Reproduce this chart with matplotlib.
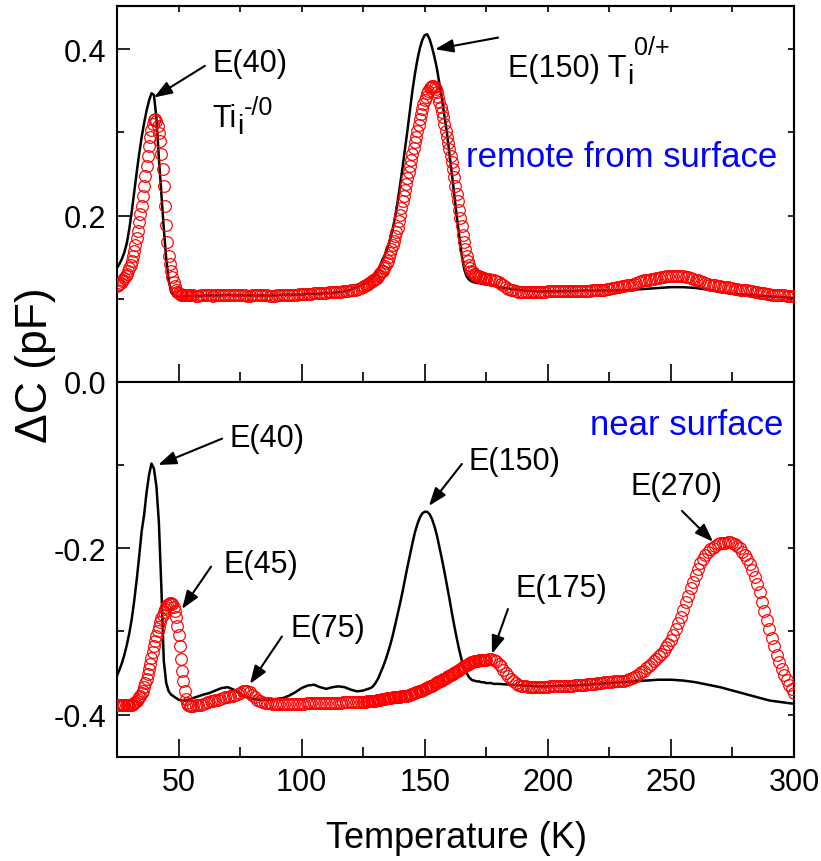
import numpy as np
import matplotlib
matplotlib.use("Agg")
import matplotlib.pyplot as plt
from matplotlib.ticker import MultipleLocator, FixedLocator, FuncFormatter

plt.rcParams["font.family"] = ["Liberation Sans", "DejaVu Sans"]
plt.rcParams["axes.unicode_minus"] = False

# ---------------- temperature grids (K) ----------------
T_red = np.concatenate([np.arange(25, 55, 0.5), np.arange(55, 125, 1.0),
                        np.arange(125, 175, 0.5), np.arange(175, 301, 1.0)])
T_black = np.concatenate([np.arange(25, 60, 1.0), np.arange(60, 125, 2.5),
                          np.arange(125, 180, 1.0), np.arange(180, 301, 5.0)])

# ---------------- remote from surface (upper panel) ----------------
remote_black = [
    # 25 .. 59 K
    0.137, 0.142, 0.148, 0.156, 0.167, 0.184, 0.205, 0.229, 0.252, 0.274,
    0.294, 0.311, 0.326, 0.338, 0.347, 0.345, 0.318, 0.270, 0.228, 0.185,
    0.148, 0.122, 0.108, 0.104, 0.103, 0.103, 0.103, 0.103, 0.103, 0.103,
    0.103, 0.103, 0.103, 0.103, 0.103,
    # 60 .. 122.5 K
    0.104, 0.104, 0.104, 0.104, 0.105, 0.104, 0.104, 0.104, 0.104, 0.104,
    0.104, 0.104, 0.104, 0.105, 0.105, 0.105, 0.105, 0.106, 0.106, 0.106,
    0.107, 0.107, 0.108, 0.109, 0.111, 0.114,
    # 125 .. 179 K
    0.117, 0.119, 0.121, 0.123, 0.126, 0.130, 0.135, 0.141, 0.148, 0.154,
    0.162, 0.172, 0.184, 0.199, 0.217, 0.237, 0.258, 0.280, 0.303, 0.326,
    0.350, 0.370, 0.387, 0.401, 0.411, 0.417, 0.418, 0.412, 0.402, 0.390,
    0.376, 0.358, 0.340, 0.320, 0.300, 0.276, 0.251, 0.225, 0.200, 0.176,
    0.153, 0.136, 0.127, 0.123, 0.121, 0.120, 0.119, 0.119, 0.118, 0.118,
    0.118, 0.117, 0.117, 0.116, 0.116,
    # 180 .. 300 K
    0.114, 0.112, 0.110, 0.109, 0.109, 0.109, 0.109, 0.110, 0.110, 0.110,
    0.110, 0.111, 0.112, 0.113, 0.114, 0.114, 0.113, 0.111, 0.108, 0.106,
    0.105, 0.104, 0.103, 0.102, 0.101,
]

remote_red = [
    # 25 .. 54.5 K
    0.115, 0.116, 0.118, 0.119, 0.121, 0.123, 0.125, 0.127, 0.130, 0.133,
    0.137, 0.141, 0.146, 0.152, 0.158, 0.165, 0.173, 0.182, 0.192, 0.202,
    0.212, 0.223, 0.235, 0.248, 0.260, 0.272, 0.284, 0.294, 0.303, 0.310,
    0.315, 0.316, 0.314, 0.308, 0.299, 0.290, 0.274, 0.256, 0.235, 0.212,
    0.189, 0.168, 0.152, 0.142, 0.133, 0.126, 0.120, 0.115, 0.111, 0.108,
    0.107, 0.106, 0.105, 0.105, 0.104, 0.104, 0.104, 0.104, 0.104, 0.104,
    # 55 .. 124 K
    0.104, 0.104, 0.103, 0.103, 0.104, 0.104, 0.105, 0.104, 0.104, 0.103,
    0.104, 0.104, 0.105, 0.105, 0.105, 0.104, 0.104, 0.104, 0.105, 0.105,
    0.104, 0.104, 0.104, 0.103, 0.103, 0.104, 0.104, 0.104, 0.104, 0.105,
    0.104, 0.104, 0.103, 0.103, 0.103, 0.104, 0.104, 0.104, 0.105, 0.105,
    0.105, 0.105, 0.105, 0.105, 0.106, 0.106, 0.106, 0.106, 0.106, 0.106,
    0.107, 0.107, 0.107, 0.107, 0.107, 0.107, 0.108, 0.108, 0.108, 0.108,
    0.108, 0.108, 0.109, 0.109, 0.109, 0.110, 0.110, 0.111, 0.112, 0.113,
    # 125 .. 174.5 K
    0.114, 0.115, 0.116, 0.117, 0.118, 0.119, 0.120, 0.121, 0.122, 0.123,
    0.124, 0.125, 0.127, 0.129, 0.131, 0.133, 0.134, 0.137, 0.140, 0.143,
    0.146, 0.150, 0.155, 0.160, 0.165, 0.170, 0.175, 0.180, 0.185, 0.193,
    0.201, 0.209, 0.217, 0.224, 0.231, 0.238, 0.245, 0.252, 0.260, 0.267,
    0.274, 0.281, 0.288, 0.295, 0.302, 0.309, 0.316, 0.322, 0.328, 0.334,
    0.339, 0.343, 0.347, 0.350, 0.353, 0.355, 0.356, 0.356, 0.355, 0.352,
    0.348, 0.342, 0.336, 0.330, 0.324, 0.318, 0.310, 0.302, 0.294, 0.287,
    0.280, 0.272, 0.264, 0.256, 0.246, 0.236, 0.226, 0.217, 0.207, 0.197,
    0.187, 0.177, 0.168, 0.160, 0.152, 0.146, 0.141, 0.137, 0.134, 0.132,
    0.130, 0.129, 0.128, 0.127, 0.127, 0.126, 0.126, 0.125, 0.125, 0.124,
    # 175 .. 300 K
    0.124, 0.124, 0.123, 0.122, 0.121, 0.120, 0.118, 0.116, 0.114, 0.112,
    0.111, 0.110, 0.109, 0.108, 0.108, 0.108, 0.108, 0.108, 0.108, 0.108,
    0.108, 0.108, 0.108, 0.108, 0.108, 0.109, 0.109, 0.109, 0.109, 0.109,
    0.109, 0.109, 0.109, 0.109, 0.109, 0.109, 0.109, 0.109, 0.109, 0.109,
    0.109, 0.109, 0.109, 0.110, 0.110, 0.110, 0.110, 0.111, 0.111, 0.112,
    0.112, 0.113, 0.113, 0.114, 0.114, 0.115, 0.115, 0.116, 0.117, 0.117,
    0.118, 0.119, 0.120, 0.121, 0.122, 0.122, 0.123, 0.124, 0.124, 0.125,
    0.125, 0.126, 0.126, 0.127, 0.127, 0.127, 0.127, 0.127, 0.127, 0.127,
    0.127, 0.126, 0.126, 0.125, 0.124, 0.123, 0.122, 0.121, 0.120, 0.119,
    0.118, 0.117, 0.116, 0.116, 0.115, 0.115, 0.114, 0.114, 0.114, 0.113,
    0.113, 0.112, 0.112, 0.111, 0.111, 0.110, 0.110, 0.109, 0.109, 0.108,
    0.108, 0.107, 0.107, 0.107, 0.106, 0.106, 0.105, 0.105, 0.105, 0.104,
    0.104, 0.104, 0.103, 0.103, 0.103, 0.103,
]

# ---------------- near surface (lower panel) ----------------
near_black = [
    # 25 .. 59 K
    -0.353, -0.346, -0.338, -0.328, -0.316, -0.302, -0.285, -0.263, -0.238, -0.210,
    -0.180, -0.160, -0.133, -0.112, -0.098, -0.104, -0.125, -0.168, -0.245, -0.335,
    -0.362, -0.372, -0.376, -0.378, -0.380, -0.382, -0.383, -0.383, -0.383, -0.382,
    -0.381, -0.380, -0.379, -0.378, -0.377,
    # 60 .. 122.5 K
    -0.376, -0.374, -0.371, -0.368, -0.367, -0.370, -0.375, -0.379, -0.381, -0.382,
    -0.382, -0.382, -0.381, -0.380, -0.377, -0.373, -0.368, -0.365, -0.364, -0.367,
    -0.369, -0.367, -0.366, -0.367, -0.370, -0.372,
    # 125 .. 179 K
    -0.371, -0.370, -0.369, -0.368, -0.366, -0.362, -0.357, -0.350, -0.343, -0.335,
    -0.326, -0.316, -0.305, -0.292, -0.279, -0.266, -0.252, -0.237, -0.222, -0.208,
    -0.194, -0.181, -0.171, -0.163, -0.158, -0.156, -0.156, -0.159, -0.165, -0.174,
    -0.185, -0.199, -0.213, -0.228, -0.244, -0.260, -0.277, -0.293, -0.308, -0.322,
    -0.334, -0.343, -0.350, -0.355, -0.358, -0.359, -0.360, -0.360, -0.361, -0.361,
    -0.362, -0.362, -0.362, -0.363, -0.363,
    # 180 .. 300 K
    -0.363, -0.364, -0.365, -0.366, -0.366, -0.365, -0.365, -0.364, -0.363, -0.362,
    -0.361, -0.360, -0.359, -0.358, -0.358, -0.359, -0.361, -0.364, -0.367, -0.371,
    -0.375, -0.379, -0.383, -0.385, -0.387,
]

near_red = [
    # 25 .. 54.5 K
    -0.389, -0.389, -0.389, -0.389, -0.389, -0.389, -0.389, -0.389, -0.389, -0.389,
    -0.389, -0.388, -0.388, -0.387, -0.386, -0.385, -0.383, -0.381, -0.379, -0.377,
    -0.374, -0.371, -0.367, -0.362, -0.357, -0.351, -0.345, -0.339, -0.332, -0.325,
    -0.318, -0.311, -0.305, -0.299, -0.294, -0.289, -0.284, -0.280, -0.276, -0.273,
    -0.270, -0.268, -0.267, -0.266, -0.266, -0.267, -0.270, -0.275, -0.283, -0.293,
    -0.304, -0.318, -0.333, -0.347, -0.360, -0.372, -0.381, -0.386, -0.389, -0.390,
    # 55 .. 124 K
    -0.390, -0.390, -0.389, -0.389, -0.388, -0.387, -0.386, -0.385, -0.384, -0.383,
    -0.382, -0.382, -0.381, -0.380, -0.379, -0.379, -0.378, -0.377, -0.376, -0.375,
    -0.374, -0.372, -0.371, -0.371, -0.373, -0.376, -0.379, -0.382, -0.384, -0.385,
    -0.386, -0.386, -0.386, -0.387, -0.387, -0.387, -0.387, -0.387, -0.387, -0.387,
    -0.387, -0.387, -0.387, -0.387, -0.387, -0.387, -0.387, -0.386, -0.386, -0.386,
    -0.386, -0.386, -0.386, -0.386, -0.386, -0.386, -0.386, -0.386, -0.386, -0.386,
    -0.386, -0.386, -0.385, -0.385, -0.385, -0.385, -0.385, -0.385, -0.385, -0.385,
    # 125 .. 174.5 K
    -0.385, -0.385, -0.385, -0.384, -0.384, -0.384, -0.384, -0.383, -0.383, -0.383,
    -0.383, -0.382, -0.382, -0.382, -0.382, -0.381, -0.381, -0.381, -0.381, -0.380,
    -0.380, -0.380, -0.380, -0.380, -0.379, -0.379, -0.379, -0.379, -0.379, -0.379,
    -0.379, -0.378, -0.378, -0.378, -0.377, -0.377, -0.377, -0.376, -0.376, -0.375,
    -0.375, -0.374, -0.374, -0.373, -0.373, -0.372, -0.372, -0.371, -0.370, -0.370,
    -0.369, -0.368, -0.368, -0.367, -0.366, -0.366, -0.365, -0.364, -0.363, -0.362,
    -0.361, -0.361, -0.360, -0.359, -0.358, -0.357, -0.357, -0.356, -0.355, -0.354,
    -0.353, -0.352, -0.351, -0.351, -0.350, -0.349, -0.348, -0.347, -0.346, -0.345,
    -0.344, -0.343, -0.342, -0.341, -0.340, -0.339, -0.339, -0.338, -0.337, -0.337,
    -0.336, -0.336, -0.335, -0.335, -0.334, -0.334, -0.334, -0.334, -0.334, -0.334,
    # 175 .. 300 K
    -0.334, -0.333, -0.333, -0.334, -0.336, -0.339, -0.342, -0.346, -0.350, -0.354,
    -0.357, -0.360, -0.362, -0.364, -0.365, -0.366, -0.366, -0.367, -0.367, -0.367,
    -0.367, -0.367, -0.367, -0.367, -0.367, -0.367, -0.366, -0.366, -0.366, -0.366,
    -0.366, -0.365, -0.365, -0.365, -0.365, -0.365, -0.364, -0.364, -0.364, -0.364,
    -0.364, -0.363, -0.363, -0.363, -0.363, -0.362, -0.362, -0.362, -0.361, -0.361,
    -0.361, -0.361, -0.360, -0.360, -0.360, -0.360, -0.359, -0.358, -0.357, -0.356,
    -0.355, -0.353, -0.351, -0.349, -0.347, -0.344, -0.342, -0.339, -0.336, -0.333,
    -0.330, -0.327, -0.323, -0.319, -0.315, -0.310, -0.304, -0.297, -0.290, -0.282,
    -0.274, -0.265, -0.257, -0.248, -0.240, -0.232, -0.225, -0.218, -0.213, -0.208,
    -0.204, -0.201, -0.199, -0.197, -0.195, -0.194, -0.193, -0.193, -0.192, -0.192,
    -0.193, -0.195, -0.197, -0.200, -0.204, -0.208, -0.213, -0.219, -0.226, -0.234,
    -0.243, -0.253, -0.264, -0.275, -0.286, -0.297, -0.308, -0.318, -0.328, -0.337,
    -0.345, -0.352, -0.358, -0.364, -0.369, -0.374,
]

x_major_ticks = [50, 100, 150, 200, 250, 300]
top_y_ticks = [0.0, 0.2, 0.4]
bottom_y_ticks = [-0.4, -0.2]

# annotation labels: (text, text x, text baseline y, arrow tail, arrow tip)
top_notes = [
    ("E(40)", 63.6, 0.374, (60.7, 0.380), (40.0, 0.342)),
]
# labels carrying a subscript / superscript: (base, sub, sup, x, baseline y, sup rise pt)
top_ion_labels = [
    ("Ti", "i", "-/0", 63.6, 0.3075, 9.0),
    ("E(150) T", "i", "0/+", 183.8, 0.368, 16.0),
]
top_ion_arrows = [((179.8, 0.414), (154.2, 0.400))]
bottom_notes = [
    ("E(40)", 70.9, -0.077, (67.7, -0.068), (41.7, -0.0997)),
    ("E(45)", 68.1, -0.228, (63.2, -0.222), (51.4, -0.273)),
    ("E(75)", 95.3, -0.306, (92.0, -0.306), (79.0, -0.363)),
    ("E(150)", 167.6, -0.1045, (165.1, -0.0985), (151.7, -0.149)),
    ("E(175)", 186.7, -0.257, (183.8, -0.273), (177.3, -0.327)),
    ("E(270)", 233.4, -0.1345, (254.5, -0.155), (267.1, -0.192)),
]

# ---------------- figure ----------------
fig = plt.figure(figsize=(8.21, 8.62), dpi=100)
ax_top = fig.add_axes([0.1425, 0.5557, 0.8246, 0.4362])
ax_bot = fig.add_axes([0.1425, 0.1206, 0.8246, 0.4350])

RED = "#ff0000"
BLUE = "#0000ff"
TICK_FS = 22
NOTE_FS = 22
BLUE_FS = 25

for ax, black, red in ((ax_top, remote_black, remote_red),
                       (ax_bot, near_black, near_red)):
    ax.plot(T_black, black, color="black", lw=1.8, zorder=2)
    ax.plot(T_red, red, ls="none", marker="o", ms=8.4, mfc="none",
            mec=RED, mew=0.85, zorder=3)
    ax.set_xlim(25, 300)
    for s in ax.spines.values():
        s.set_linewidth(1.5)
    ax.xaxis.set_major_locator(FixedLocator(x_major_ticks))
    ax.xaxis.set_minor_locator(MultipleLocator(25))
    ax.tick_params(axis="x", which="major", direction="in", length=13, width=1.2,
                   top=False, labelsize=TICK_FS, pad=7)
    ax.tick_params(axis="x", which="minor", direction="in", length=7, width=1.2, top=False)
    ax.tick_params(axis="y", which="major", direction="in", length=9, width=1.2,
                   right=False, labelsize=TICK_FS, pad=8)
    ax.tick_params(axis="y", which="minor", direction="in", length=5, width=1.2, right=False)
    ax.yaxis.set_major_formatter(FuncFormatter(lambda v, p: f"{v:.1f}"))

    # short inward ticks on the right spine
    sy = ax.secondary_yaxis("right")
    sy.yaxis.set_major_locator(FixedLocator(top_y_ticks if ax is ax_top else bottom_y_ticks))
    sy.yaxis.set_minor_locator(FixedLocator([0.1, 0.3] if ax is ax_top else [-0.3, -0.1]))
    sy.tick_params(which="both", direction="in", length=4, width=1.2, labelright=False)
    sy.spines["right"].set_linewidth(1.5)

ax_top.set_ylim(0.0, 0.452)
ax_top.yaxis.set_major_locator(FixedLocator(top_y_ticks))
ax_top.yaxis.set_minor_locator(FixedLocator([0.1, 0.3]))
ax_top.tick_params(axis="x", labelbottom=False)

# short inward ticks along the top edge
sx = ax_top.secondary_xaxis("top")
sx.xaxis.set_major_locator(FixedLocator(x_major_ticks))
sx.xaxis.set_minor_locator(MultipleLocator(25))
sx.tick_params(which="both", direction="in", length=4, width=1.2, labeltop=False)
sx.spines["top"].set_linewidth(1.5)

ax_bot.set_ylim(-0.451, 0.0)
ax_bot.yaxis.set_major_locator(FixedLocator(bottom_y_ticks))
ax_bot.yaxis.set_minor_locator(FixedLocator([-0.3, -0.1]))

arrow_kw = dict(arrowstyle="-|>,head_length=0.55,head_width=0.2", color="black",
                lw=1.5, mutation_scale=20, shrinkA=0, shrinkB=0)

for ax, notes in ((ax_top, top_notes), (ax_bot, bottom_notes)):
    for txt, tx, ty, tail, tip in notes:
        ax.text(tx, ty, txt, fontsize=NOTE_FS, ha="left", va="baseline", zorder=5)
        ax.annotate("", xy=tip, xytext=tail, arrowprops=arrow_kw, zorder=5)
for tail, tip in top_ion_arrows:
    ax_top.annotate("", xy=tip, xytext=tail, arrowprops=arrow_kw, zorder=5)

# base text followed by a lowered "i" and a raised charge state
renderer = fig.canvas.get_renderer()
for base, sub, sup, tx, ty, rise in top_ion_labels:
    t = ax_top.text(tx, ty, base, fontsize=NOTE_FS, ha="left", va="baseline", zorder=5)
    w_base = t.get_window_extent(renderer).width * 72.0 / fig.dpi
    s = ax_top.annotate(sub, xy=(tx, ty), xytext=(w_base + 0.5, -5.0),
                        textcoords="offset points", fontsize=NOTE_FS - 2,
                        ha="left", va="baseline", zorder=5)
    w_sub = s.get_window_extent(renderer).width * 72.0 / fig.dpi
    ax_top.annotate(sup, xy=(tx, ty), xytext=(w_base + w_sub + 1.0, rise),
                    textcoords="offset points", fontsize=NOTE_FS - 4,
                    ha="left", va="baseline", zorder=5)

ax_top.text(293.1, 0.2595, "remote from surface", color=BLUE, fontsize=BLUE_FS,
            ha="right", va="baseline")
ax_bot.text(295.5, -0.0625, "near surface", color=BLUE, fontsize=BLUE_FS,
            ha="right", va="baseline")

fig.text(0.5556, 0.0162, "Temperature (K)", fontsize=26, ha="center", va="baseline")
fig.text(35.5 / 821, 1 - 365 / 862, "\u0394C (pF)", fontsize=32, rotation=90,
         ha="center", va="center")

fig.savefig("out.png", dpi=100)
